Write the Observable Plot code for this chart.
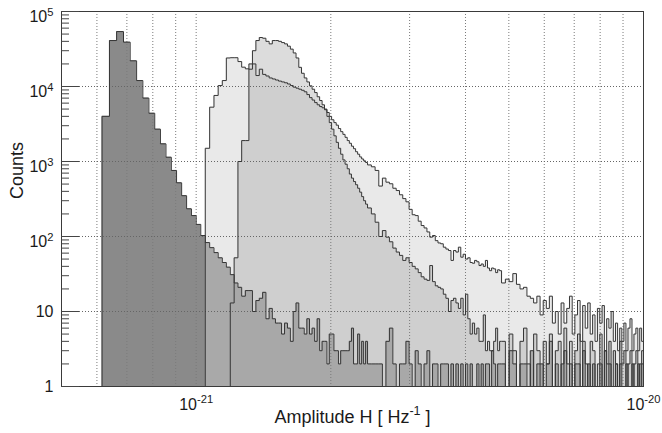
<!DOCTYPE html>
<html><head><meta charset="utf-8">
<script src="https://cdn.jsdelivr.net/npm/d3@7"></script>
<script src="https://cdn.jsdelivr.net/npm/@observablehq/plot@0.6"></script>
<style>body{margin:0;background:#fff}svg{display:block}text{white-space:pre}</style>
</head><body><div id="chart"></div>
<script>
// ---- binning (linear bins, three widths) ----
const binStart = 4.96e-22;
const binWidths = [2.4e-23, 4.8e-23, 9.6e-23];
const binCounts = [80, 50, 54];

// ---- histogram contents ----
const firstBinA = 5;
const countsA = [
  4000, 41000, 54000, 39000, 22000, 12000, 7000, 4400, 2700, 1720, 1140, 760, 520, 350, 234, 190, 145, 103,
  83, 71, 61, 52, 45, 39, 31,
  24, 21, 16, 19, 19, 10, 14, 15, 18,
  8, 11, 8, 7, 7, 5, 7, 6, 4, 10, 13, 6, 6, 5, 8, 5, 6, 4, 8, 3, 4, 4, 2, 5, 5, 3, 3, 2, 3, 3, 3, 3, 4, 6, 2,
  2, 5, 2, 4, 2, 4,
  2, 2, 2, 2, 1, 4, 6, 2, 1, 2,  2, 4, 2, 1, 3, 2, 1, 2, 3, 1,  2, 2, 1, 2, 2, 2, 1, 2, 1, 2,
  1, 2, 1, 2, 1, 2, 1, 1, 2, 1,  2, 1, 2, 2, 1, 3, 2, 1, 2, 2,
  2, 1, 3, 2, 1, 2, 2, 1, 3, 1,  2, 2, 1, 2, 4, 1, 2, 1, 2, 3,  1, 2, 1, 2, 2, 1, 3, 1, 2, 1,
  2, 1, 1, 2, 1, 3, 1, 2, 1, 1,  2, 1, 2, 1, 1, 2, 1, 1, 2, 1,  1, 2, 1, 2
];
const firstBinB = 23;
const countsB = [
  1500, 5300, 7600, 10300, 12000, 24000, 24200, 24200, 21500, 18100, 17200,
  17000, 20000, 14000, 17000, 14500, 13800, 13000, 12600, 12200, 11800, 11500, 11200, 10800, 10300, 9800, 9500,
  9200, 8900, 8500, 7800, 7100, 6600, 6100, 5700, 5400, 5200, 5000, 4500, 4000, 3600, 3300,
  3050, 2750, 2500, 2300, 2100, 1900, 1750, 1600, 1480, 1350, 1250, 1150, 1080, 1020, 970,
  900, 850, 760, 470, 600, 530, 505, 440, 410, 360,  320, 290, 230, 195, 190, 160, 140, 130, 115, 98,
  103, 88, 82, 80, 72, 68, 65, 48, 65, 62,  72, 53, 58, 50, 52, 45, 44, 48, 46, 41,  43, 40, 48, 38, 35, 38, 37, 33, 36, 35,
  24, 27, 25, 32, 23, 20, 21, 16, 15, 13,  16, 9, 14, 11, 16, 7, 10, 5, 13, 7,  11, 16, 5, 9, 14, 4, 12, 6, 13, 5,
  9, 4, 11, 7, 12, 3, 8, 6, 10, 4,  7, 3, 6, 4, 7, 3, 6, 8, 3, 5,  6, 3, 6, 4
];
const firstBinC = 29;
const countsC = [
  13, 52, 1000, 1900, 1900, 20000, 30000, 41000, 45000, 44000, 40000, 37000, 41000, 41000, 40000, 38500, 37000, 34500, 31500, 28000, 24000,
  18000, 15000, 13000, 11500, 10200, 9200, 8300, 7300, 6500, 5700, 4900, 4000, 3300, 2700, 2200,
  1800, 1500, 1250, 1050, 920, 800, 680, 600, 540, 490, 440, 390, 340, 300, 270,
  240, 200, 155, 100, 120, 98, 85, 70, 62, 56,  48, 52, 45, 40, 37, 33, 29, 27, 26, 41,
  25, 22, 21, 20, 17, 15, 10, 14, 15, 13,  11, 15, 9, 17, 8, 5, 7, 5, 6, 4,  4, 9, 3, 4, 3, 3, 4, 6, 3, 4,
  4, 1, 5, 3, 1, 4, 6, 2, 1, 5,  3, 1, 4, 2, 5, 1, 3, 4, 1, 6,  2, 4, 1, 3, 5, 1, 4, 2, 1, 4,
  3, 1, 2, 5, 1, 3, 2, 4, 1, 3,  2, 1, 4, 2, 3, 1, 2, 3, 1, 2,  3, 1, 2, 3
];

// ---- axes ----
const xDomain = [5e-22, 1e-20];
const yDomain = [1, 1e5];
const xTicks = [1e-21, 1e-20];
const xTickLabels = ["10^{-21}", "10^{-20}"];
const yTicks = [1, 10, 100, 1000, 1e4, 1e5];
const yTickLabels = ["1", "10", "10^{2}", "10^{3}", "10^{4}", "10^{5}"];
const xGrid = [6e-22, 7e-22, 8e-22, 9e-22, 1e-21, 2e-21, 3e-21, 4e-21, 5e-21, 6e-21, 7e-21, 8e-21, 9e-21];
const yGrid = [10, 100, 1000, 1e4];
const minorMultipliers = [2, 3, 4, 5, 6, 7, 8, 9];
const decades = [1, 10, 100, 1000, 1e4];
const xTitle = "Amplitude H [ Hz^{-1} ]";
const yTitle = "Counts";

// ---- build ----
const edges = [binStart];
binWidths.forEach((w, s) => { for (let k = 0; k < binCounts[s]; k++) edges.push(edges[edges.length - 1] + w); });

function steps(counts, first) {
  const pts = [{x: edges[first], y: 1}];
  counts.forEach((c, k) => {
    const v = Math.max(c, 1);
    pts.push({x: edges[first + k], y: v}, {x: edges[first + k + 1], y: v});
  });
  pts.push({x: edges[first + counts.length], y: 1});
  return pts;
}
const stA = steps(countsA, firstBinA);
const stB = steps(countsB, firstBinB);
const stC = steps(countsC, firstBinC);
const yMinor = decades.flatMap(d => minorMultipliers.map(m => m * d));
const yLab = new Map(yTicks.map((t, i) => [t, yTickLabels[i]]));
const xLab = new Map(xTicks.map((t, i) => [t, xTickLabels[i]]));
const outline = "#363636";

const plot = Plot.plot({
  width: 662, height: 433,
  marginLeft: 61, marginRight: 19, marginTop: 11, marginBottom: 47,
  x: {type: "log", domain: xDomain, label: null},
  y: {type: "log", domain: yDomain, label: null},
  style: {fontFamily: "'Liberation Sans', Arial, Helvetica, sans-serif", fontSize: "16px", color: "#1a1a1a", background: "#fff"},
  marks: [
    Plot.areaY(stA, {x: "x", y1: 1, y2: "y", fill: "#8a8a8a", curve: "linear"}),
    Plot.areaY(stB, {x: "x", y1: 1, y2: "y", fill: "#cfcfcf", fillOpacity: 0.45, curve: "linear"}),
    Plot.areaY(stC, {x: "x", y1: 1, y2: "y", fill: "#a8a8a8", fillOpacity: 0.4, curve: "linear"}),
    Plot.ruleX(xGrid, {stroke: "#7a7a7a", strokeDasharray: "1,2", strokeWidth: 1}),
    Plot.ruleY(yGrid, {stroke: "#666", strokeDasharray: "1,2", strokeWidth: 1}),
    Plot.line(stA, {x: "x", y: "y", stroke: outline, strokeWidth: 1, curve: "linear"}),
    Plot.line(stB, {x: "x", y: "y", stroke: outline, strokeWidth: 1, curve: "linear"}),
    Plot.line(stC, {x: "x", y: "y", stroke: outline, strokeWidth: 1, curve: "linear"}),
    Plot.frame({stroke: "#3a3a3a"}),
    Plot.axisY({ticks: yMinor, tickSize: 8, dx: 8, tickFormat: () => "", label: null, stroke: "#444"}),
    Plot.axisY({ticks: yTicks, tickSize: 18, dx: 18, tickFormat: () => "", label: null, stroke: "#444"}),
    Plot.axisY({ticks: yTicks, tickSize: 0, tickPadding: 8, tickFormat: d => yLab.get(d), label: null, fontSize: 16}),
    Plot.axisX({ticks: xTicks, tickSize: 0, tickPadding: 12, tickFormat: d => xLab.get(d), label: null, fontSize: 16}),
    Plot.text([yTitle], {frameAnchor: "left", dx: -44, rotate: -90, fontSize: 18, text: d => d}),
    Plot.text([xTitle], {frameAnchor: "bottom", dy: 36, fontSize: 18, text: d => d})
  ]
});

// superscripts as real tspans
const NS = "http://www.w3.org/2000/svg";
function supify(el, baseDy) {
  const s = el.textContent;
  if (!s.includes("^{")) return;
  const parts = s.split(/\^\{([^}]*)\}/);
  while (el.firstChild) el.removeChild(el.firstChild);
  parts.forEach((p, k) => {
    if (p === "" && k % 2 === 0 && k > 0) return;
    const t = document.createElementNS(NS, "tspan");
    t.textContent = p;
    if (k % 2 === 1) { t.setAttribute("font-size", "70%"); t.setAttribute("dy", "-0.6em"); }
    else if (k > 0) t.setAttribute("dy", "0.42em");
    else if (baseDy) t.setAttribute("dy", baseDy);
    el.appendChild(t);
  });
}
plot.querySelectorAll("text").forEach(el => {
  const isY = el.closest('[aria-label="y-axis tick label"]');
  supify(el, isY ? "0.35em" : null);
});
document.getElementById("chart").appendChild(plot);
</script>
</body></html>
